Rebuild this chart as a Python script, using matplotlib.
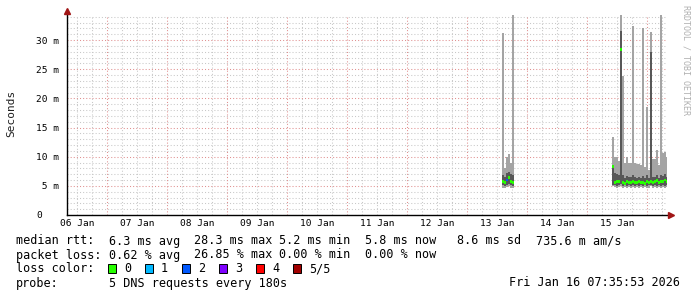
import matplotlib
matplotlib.use("Agg")
import matplotlib.pyplot as plt
import matplotlib.dates as mdates
from matplotlib.patches import Rectangle
from matplotlib.ticker import MultipleLocator
import numpy as np
import pandas as pd

plt.rcParams["font.family"] = ["DejaVu Sans Mono"]

# --- data (ms), one entry per 48 min consolidated column ---
t_a = pd.date_range("2026-01-13 13:52", periods=6, freq="48min")
max_a = [31.2, 8.0, 10.0, 10.4, 8.9, 34.3]
hi_a = [6.9, 6.6, 7.2, 7.4, 7.0, 6.8]
med_a = [5.7, 5.6, 6.0, 6.4, 5.8, 5.6]
lo_a = [5.1, 5.0, 5.2, 5.3, 5.1, 5.0]
min_a = [4.7, 4.6, 4.8, 4.9, 4.7, 4.6]
loss_a = [0, 0, 2, 0, 0, 0]

t_b = pd.date_range("2026-01-15 09:52", periods=28, freq="48min")
max_b = [13.4, 9.9, 9.9, 9.2, 34.3, 23.9, 8.9, 10.0, 8.9, 9.0, 32.4, 9.0, 8.8, 8.7,
         8.6, 32.1, 8.3, 18.6, 7.8, 31.4, 9.6, 9.6, 11.1, 8.6, 34.3, 10.6, 10.8, 10.0]
hi_b = [8.0, 7.2, 7.0, 6.8, 31.5, 6.9, 6.4, 6.7, 6.5, 6.6, 6.8, 6.5, 6.4, 6.6,
        6.3, 6.7, 6.4, 6.8, 6.3, 28.0, 6.6, 6.5, 6.9, 6.4, 6.8, 6.7, 7.0, 6.6]
med_b = [8.3, 5.6, 5.8, 5.7, 28.3, 5.6, 5.4, 5.7, 5.6, 5.5, 5.8, 5.6, 5.5, 5.7,
         5.5, 5.6, 5.4, 5.7, 5.5, 5.8, 5.6, 5.7, 5.9, 5.6, 5.8, 5.7, 6.0, 5.7]
lo_b = [5.2, 5.1, 5.0, 5.1, 5.3, 5.0, 5.1, 5.0, 5.1, 5.0, 5.1, 5.0, 5.1, 5.0,
        5.1, 5.0, 5.1, 5.0, 5.1, 5.2, 5.0, 5.1, 5.0, 5.1, 5.0, 5.1, 5.0, 5.1]
min_b = [4.9, 4.8, 4.7, 4.8, 5.0, 4.7, 4.8, 4.7, 4.8, 4.7, 4.8, 4.6, 4.8, 4.7,
         4.8, 4.7, 4.8, 4.7, 4.6, 4.9, 4.7, 4.8, 4.7, 4.8, 4.7, 4.8, 4.7, 4.8]
loss_b = [0] * 28

loss_colors = ["#26ff00", "#00b8ff", "#0059ff", "#7e00ff", "#ff0000", "#a10000"]
loss_labels = ["0", "1", "2", "3", "4", "5/5"]
ytick_vals = [0, 5, 10, 15, 20, 25, 30]
ytick_labels = ["0", " 5 m", "10 m", "15 m", "20 m", "25 m", "30 m"]

rtt_items = ["6.3 ms avg", "28.3 ms max", "5.2 ms min", "5.8 ms now", "8.6 ms sd", "735.6 m am/s"]
loss_items = ["0.62 % avg", "26.85 % max", "0.00 % min", "0.00 % now"]
item_cols = [13, 25, 37, 49, 62, 73]  # character columns of the legend items

t_start = pd.Timestamp("2026-01-06 07:52")
t_end = pd.Timestamp("2026-01-16 07:52")

W, H = 697, 297
fig = plt.figure(figsize=(W / 100, H / 100), dpi=100)
fig.patch.set_facecolor("white")
ax = fig.add_axes([67 / W, 82 / H, 600 / W, 200 / H])

col_w = 48 / 1440
for t, mx, hi, md, lo, mn, ls in [(t_a, max_a, hi_a, med_a, lo_a, min_a, loss_a),
                                  (t_b, max_b, hi_b, med_b, lo_b, min_b, loss_b)]:
    x = mdates.date2num(t)
    mx, hi, md, lo, mn = map(np.array, (mx, hi, md, lo, mn))
    ax.bar(x, mx - mn, bottom=mn, width=col_w, align="edge", color="#a4a4a4",
           linewidth=0, antialiased=False, zorder=3)
    ax.bar(x, hi - lo, bottom=lo, width=col_w, align="edge", color="#585858",
           linewidth=0, antialiased=False, zorder=4)
    ax.bar(x, 0.5, bottom=md - 0.25, width=col_w, align="edge",
           color=[loss_colors[i] for i in ls], linewidth=0, antialiased=False, zorder=5)

ax.set_xlim(t_start, t_end)
ax.set_ylim(0, 34.29)

# grid
dots = (0, (1, 2))
ax.yaxis.set_minor_locator(MultipleLocator(1))
ax.set_yticks(ytick_vals)
ax.set_yticklabels(ytick_labels)
ax.xaxis.set_major_locator(mdates.HourLocator(byhour=[12]))
ax.xaxis.set_minor_locator(mdates.HourLocator(byhour=[6, 18]))
ax.xaxis.set_major_formatter(mdates.DateFormatter("%d %b"))
ax.grid(axis="y", which="major", color="#e09090", linestyle=dots, linewidth=0.75, zorder=1)
ax.grid(axis="y", which="minor", color="#c8c8c8", linestyle=dots, linewidth=0.75, zorder=1)
ax.grid(axis="x", which="both", color="#c8c8c8", linestyle=dots, linewidth=0.75, zorder=1)
for d in pd.date_range("2026-01-07", "2026-01-16", freq="D"):
    ax.axvline(d, color="#e09090", linestyle=dots, linewidth=0.75, zorder=1)
ax.set_axisbelow(True)

ax.tick_params(axis="both", which="both", length=0, labelsize=6.8, colors="black")
ax.tick_params(axis="y", pad=22.3)
ax.tick_params(axis="x", pad=3)
for lab in ax.get_yticklabels():
    lab.set_horizontalalignment("left")

for s in ["top", "right"]:
    ax.spines[s].set_visible(False)
for s in ["left", "bottom"]:
    ax.spines[s].set_color("black")
    ax.spines[s].set_linewidth(1.0)
    ax.spines[s].set_zorder(6)

ax.plot([1.006], [0], marker=">", markersize=4, color="#a01515",
        transform=ax.transAxes, clip_on=False, zorder=7)
ax.plot([0], [1.022], marker="^", markersize=4, color="#a01515",
        transform=ax.transAxes, clip_on=False, zorder=7)

fig.text(11 / W, 1 - 113 / H, "Seconds", rotation=90, ha="center", va="center",
         fontsize=8, color="#202020")
fig.text(686 / W, 1 - 60 / H, "RRDTOOL / TOBI OETIKER", rotation=270,
         ha="center", va="center", fontsize=6, color="#b0b0b0")

# legend block
fs = 8.5
cw = 7.12  # monospace character advance in px
x0 = 16
rows = [241, 255, 269, 283]
def put(x, row, s, ha="left"):
    fig.text(x / W, 1 - rows[row] / H, s, ha=ha, va="center", fontsize=fs, color="black")

put(x0, 0, "median rtt:")
for c, s in zip(item_cols, rtt_items):
    put(x0 + c * cw, 0, s)
put(x0, 1, "packet loss:")
for c, s in zip(item_cols, loss_items):
    put(x0 + c * cw, 1, s)
put(x0, 2, "loss color:")
for i, (c, s) in enumerate(zip(loss_colors, loss_labels)):
    bx = 108 + 37 * i
    fig.add_artist(Rectangle((bx / W, 1 - 273 / H), 8 / W, 9 / H, transform=fig.transFigure,
                             facecolor=c, edgecolor="black", linewidth=0.7))
    put(bx + 16, 2, s)
put(x0, 3, "probe:")
put(x0 + 13 * cw, 3, "5 DNS requests every 180s")
put(680, 3, "Fri Jan 16 07:35:53 2026", ha="right")

fig.savefig("out.png", dpi=100)
